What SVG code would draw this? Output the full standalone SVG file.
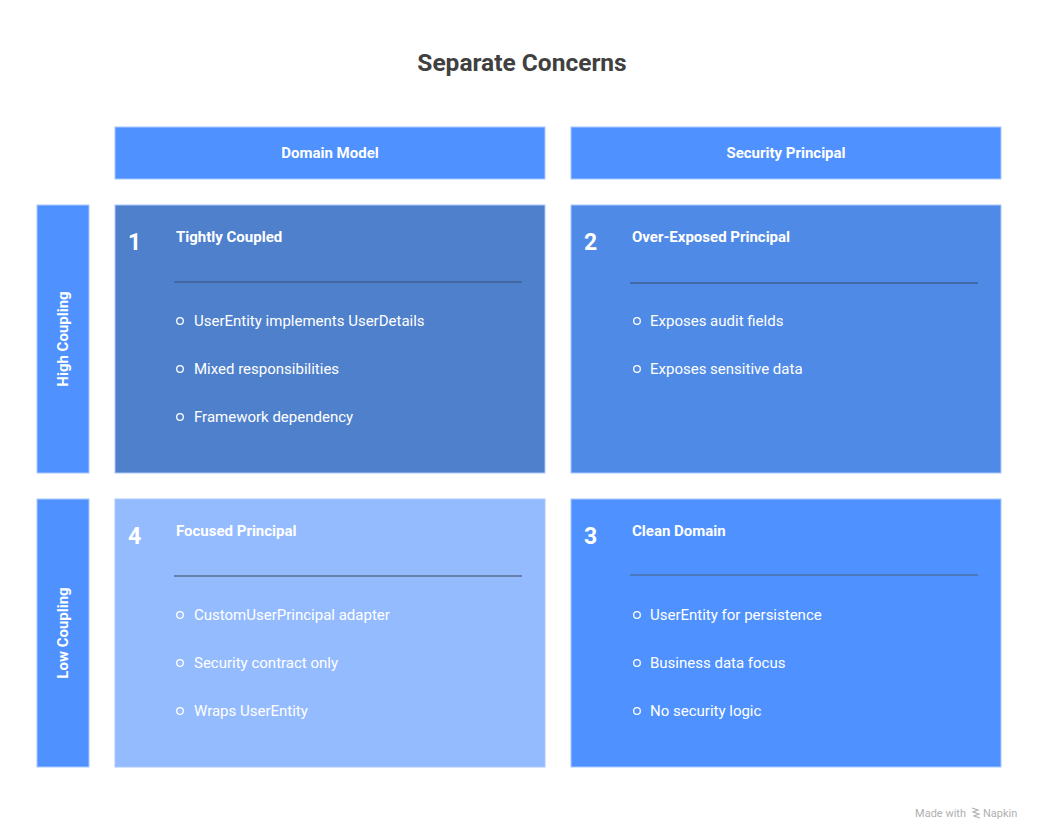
<svg xmlns="http://www.w3.org/2000/svg" width="1044" height="840" viewBox="0 0 1044 840">
<style>
text{font-family:Roboto,"Liberation Sans",sans-serif}
.title{font-size:24.5px;font-weight:700;fill:#404040}
.hdr{font-size:15px;font-weight:700;fill:#ffffff}
.num{font-size:23px;font-weight:700;fill:#ffffff}
.qt{font-size:15px;font-weight:700;fill:#ffffff}
.bl{font-size:15px;fill:#ffffff}
.dot{fill:none;stroke:#ffffff;stroke-width:1.3}
.div{stroke:#3f5f93;stroke-width:1.5}
.edge{stroke:#a9c8ff;stroke-width:1}
</style>
<rect width="1044" height="840" fill="#ffffff"/>
<text class="title" x="522" y="71" text-anchor="middle">Separate Concerns</text>
<g id="col-domain"><rect x="115" y="127" width="430" height="52" fill="#4f92ff" class="edge"/><text class="hdr" x="330" y="158" text-anchor="middle">Domain Model</text></g>
<g id="col-security"><rect x="571" y="127" width="430" height="52" fill="#4f92ff" class="edge"/><text class="hdr" x="786" y="158" text-anchor="middle">Security Principal</text></g>
<g id="row-high"><rect x="37" y="205" width="52" height="268" fill="#4f92ff" class="edge"/><text class="hdr" transform="translate(68,339) rotate(-90)" text-anchor="middle">High Coupling</text></g>
<g id="row-low"><rect x="37" y="499" width="52" height="268" fill="#4f92ff" class="edge"/><text class="hdr" transform="translate(68,633) rotate(-90)" text-anchor="middle">Low Coupling</text></g>
<g id="q1"><rect x="115" y="205" width="430" height="268" fill="#4f80cc" class="edge"/>
<text class="num" x="128" y="250">1</text><text class="qt" x="176" y="242">Tightly Coupled</text>
<line class="div" x1="174" y1="282" x2="522" y2="282"/>
<circle class="dot" cx="180" cy="321" r="3.3"/><text class="bl" x="194" y="326">UserEntity implements UserDetails</text>
<circle class="dot" cx="180" cy="369" r="3.3"/><text class="bl" x="194" y="374">Mixed responsibilities</text>
<circle class="dot" cx="180" cy="417" r="3.3"/><text class="bl" x="194" y="422">Framework dependency</text></g>
<g id="q2"><rect x="571" y="205" width="430" height="268" fill="#4f8ae6" class="edge"/>
<text class="num" x="584" y="250">2</text><text class="qt" x="632" y="242">Over-Exposed Principal</text>
<line class="div" x1="630" y1="283" x2="978" y2="283"/>
<circle class="dot" cx="637" cy="321" r="3.3"/><text class="bl" x="650" y="326">Exposes audit fields</text>
<circle class="dot" cx="637" cy="369" r="3.3"/><text class="bl" x="650" y="374">Exposes sensitive data</text></g>
<g id="q4"><rect x="115" y="499" width="430" height="268" fill="#95bbff" class="edge"/>
<text class="num" x="128" y="544">4</text><text class="qt" x="176" y="536">Focused Principal</text>
<line class="div" x1="174" y1="576" x2="522" y2="576" style="stroke:#5a6e90"/>
<circle class="dot" cx="180" cy="615" r="3.3"/><text class="bl" x="194" y="620">CustomUserPrincipal adapter</text>
<circle class="dot" cx="180" cy="663" r="3.3"/><text class="bl" x="194" y="668">Security contract only</text>
<circle class="dot" cx="180" cy="711" r="3.3"/><text class="bl" x="194" y="716">Wraps UserEntity</text></g>
<g id="q3"><rect x="571" y="499" width="430" height="268" fill="#4f92ff" class="edge"/>
<text class="num" x="584" y="544">3</text><text class="qt" x="632" y="536">Clean Domain</text>
<line class="div" x1="630" y1="575" x2="978" y2="575" style="stroke:#4a6ea8"/>
<circle class="dot" cx="637" cy="615" r="3.3"/><text class="bl" x="650" y="620">UserEntity for persistence</text>
<circle class="dot" cx="637" cy="663" r="3.3"/><text class="bl" x="650" y="668">Business data focus</text>
<circle class="dot" cx="637" cy="711" r="3.3"/><text class="bl" x="650" y="716">No security logic</text></g>
<g id="connectors"></g>
<text x="966" y="817" text-anchor="end" style="font-size:11px;fill:#b0b0b0">Made with</text>
<path d="M972 808 l6 2 l-5 2 l6 2 l-5 2 l6 2" fill="none" stroke="#b0b0b0" stroke-width="1.2"/>
<text x="983" y="817" style="font-size:11px;fill:#b0b0b0">Napkin</text>
</svg>
